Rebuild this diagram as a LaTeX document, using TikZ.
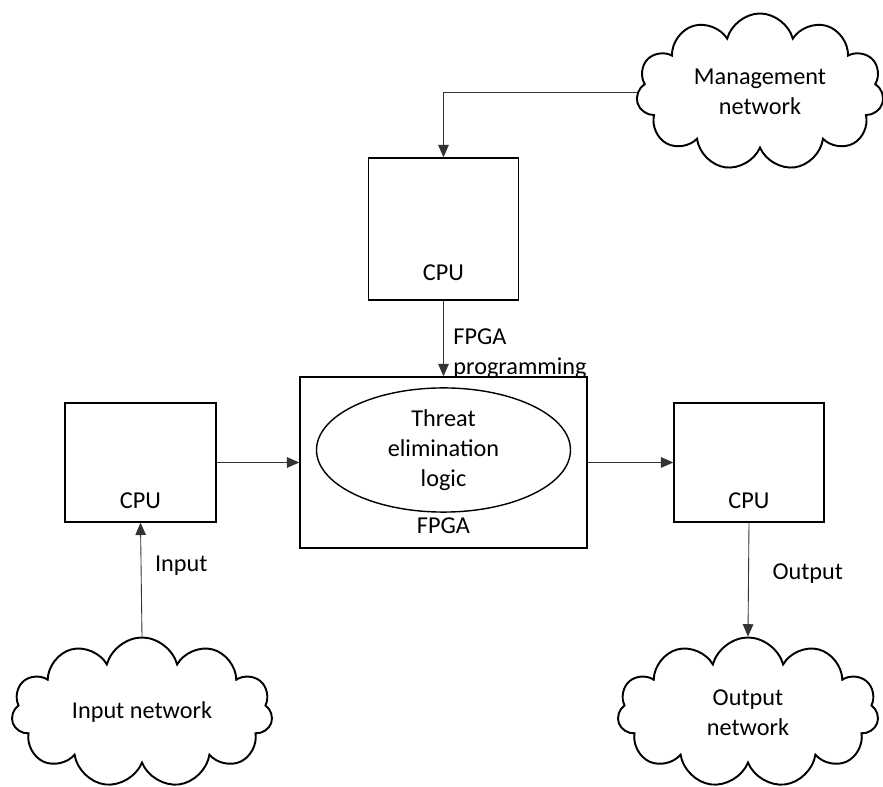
\documentclass[tikz,border=0pt]{standalone}
\usepackage{fontspec}
\setmainfont{Carlito}
\usepackage{tikz}
\usetikzlibrary{positioning, arrows.meta, shapes.geometric, shapes.symbols}

\begin{document}
\begin{tikzpicture}[on grid, >={Triangle[length=7pt,width=6pt]},
    font=\fontsize{13.8}{17}\selectfont,
    every node/.style={inner sep=2pt},
    box/.style={draw, line width=0.8pt},
    net/.style={draw, cloud, cloud puffs=11, cloud ignores aspect, line width=1.1pt, align=center, inner sep=0pt},
    link/.style={draw=black!80, line width=0.5pt}]
    \useasboundingbox (-8.87,-6.49) rectangle (8.79,9.25);

    % Boxes
    \node[box, minimum width=5.74cm, minimum height=3.42cm] (fpga) {};
    \node[box, minimum width=3.0cm, minimum height=2.84cm, above=4.67cm of fpga] (cputop) {};
    \node[box, minimum width=3.02cm, minimum height=2.38cm, left=6.06cm of fpga] (cpuin) {};
    \node[box, minimum width=3.0cm, minimum height=2.38cm, right=6.11cm of fpga] (cpuout) {};
    \node[draw, ellipse, line width=0.8pt, minimum width=5.08cm, minimum height=2.0cm,
          align=center, above=0.25cm of fpga] (logic) {Threat\\elimination\\logic};

    % Box labels
    \node (fpgalbl)   at ([yshift=0.46cm]fpga.south)   {FPGA};
    \node (cputoplbl) at ([yshift=0.56cm]cputop.south) {CPU};
    \node (cpuinlbl)  at ([yshift=0.44cm]cpuin.south)  {CPU};
    \node (cpuoutlbl) at ([yshift=0.44cm]cpuout.south) {CPU};

    % Networks
    \node[net, minimum width=4.95cm, minimum height=3.14cm] (mgmt) at (6.33,7.41) {Management\\network};
    \node[net, minimum width=5.22cm, minimum height=3.0cm] (innet) at (-6.03,-5.0) {Input network};
    \node[net, minimum width=5.22cm, minimum height=3.0cm] (outnet) at (6.09,-5.0) {Output\\network};

    % Connections
    \draw[link, ->] (mgmt.west) -| (cputop.north);
    \draw[link, ->] (cputop.south) -- node[pos=0.7, anchor=west, xshift=0.12cm, align=left] (proglbl) {FPGA\\programming} (fpga.north);
    \draw[link, ->] (cpuin) -- (fpga);
    \draw[link, ->] (fpga) -- (cpuout);
    \draw[link, ->] (innet.north) -- node[pos=0.62, anchor=west, xshift=0.2cm] (inlbl) {Input} (cpuin.south);
    \draw[link, ->] (cpuout.south) -- node[pos=0.45, anchor=west, xshift=0.4cm] (outlbl) {Output} (outnet.north);
\end{tikzpicture}
\end{document}
